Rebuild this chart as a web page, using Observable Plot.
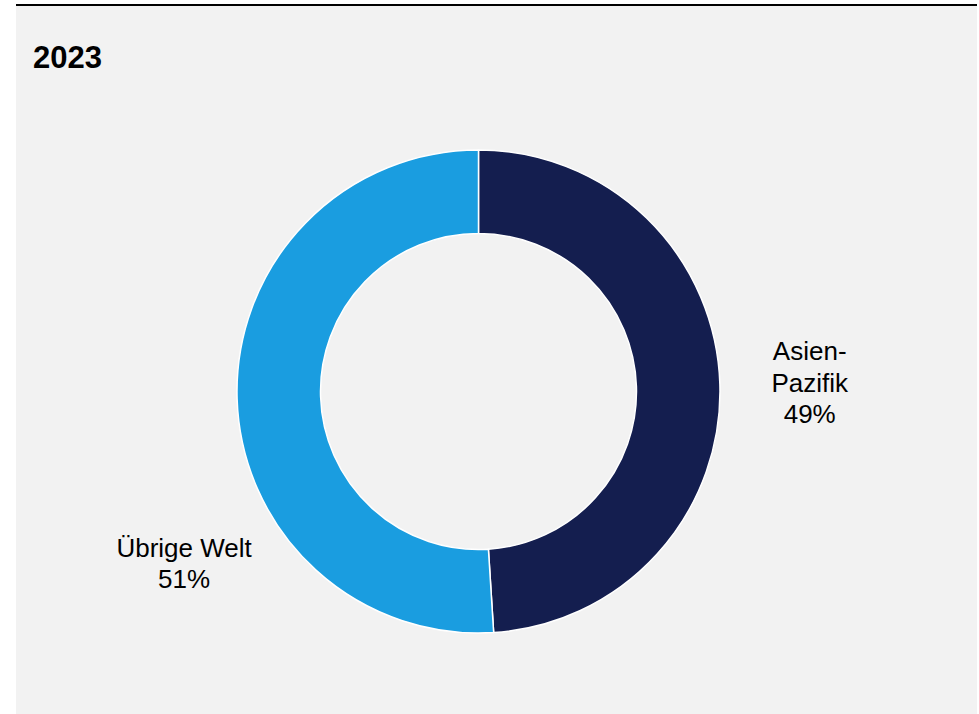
<!DOCTYPE html>
<html>
<head>
<meta charset="utf-8">
<script src="https://cdn.jsdelivr.net/npm/d3@7"></script>
<script src="https://cdn.jsdelivr.net/npm/@observablehq/plot@0.6"></script>
<style>
  html, body { margin: 0; padding: 0; background: #ffffff; }
  #panel {
    position: absolute; left: 16px; top: 4px; width: 961px; height: 708px;
    border-top: 2px solid #000; background: #f2f2f2; overflow: hidden;
  }
  #title {
    font-family: "Liberation Sans", Arial, sans-serif; font-weight: bold;
    font-size: 31px; line-height: 36px; height: 36px;
    padding: 34px 0 0 17px; color: #000;
  }
  #chart svg { display: block; background: transparent; }
</style>
</head>
<body>
<div id="panel">
  <div id="title">2023</div>
  <div id="chart"></div>
</div>
<script>
// ---- data ----
const regions = ["Asien-Pazifik", "Übrige Welt"];
const shares = [49, 51];
const labelTexts = ["Asien-\nPazifik\n49%", "Übrige Welt\n51%"];
const colors = ["#141e4f", "#1a9de0"];

// ---- layout (not data) ----
const innerRatio = 158 / 241.5;
const labelPlacement = { "Übrige Welt": { angleDeg: 240, radius: 1.41 } };
const defaultLabelRadius = 1.37;

const rows = regions.map((r, i) => ({ region: r, share: shares[i], label: labelTexts[i], color: colors[i] }));
const arcs = d3.pie().sort(null).value(d => d.share).startAngle(0).endAngle(2 * Math.PI)(rows);

const labels = arcs.map(a => {
  const p = labelPlacement[a.data.region];
  const ang = p ? p.angleDeg * Math.PI / 180 : (a.startAngle + a.endAngle) / 2;
  const rr = p ? p.radius : defaultLabelRadius;
  return { x: rr * Math.sin(ang), y: rr * Math.cos(ang), text: a.data.label };
});

const donut = (index, scales, values, dimensions, context) => {
  const x = scales.x, y = scales.y;
  const cx = x(0), cy = y(0);
  const R = x(1) - x(0);
  const arcGen = d3.arc().innerRadius(R * innerRatio).outerRadius(R);
  const g = d3.create("svg:g").attr("transform", `translate(${cx},${cy})`);
  g.selectAll("path").data(arcs).join("path")
    .attr("d", arcGen)
    .attr("fill", d => d.data.color)
    .attr("stroke", "#ffffff")
    .attr("stroke-width", 1.5)
    .attr("stroke-linejoin", "round");
  return g.node();
};

const W = 961, H = 638;
const cxPx = 462.5, cyPx = 315.5, Rpx = 241.5;

const chart = Plot.plot({
  width: W,
  height: H,
  marginLeft: cxPx - Rpx,
  marginRight: W - (cxPx + Rpx),
  marginTop: cyPx - Rpx,
  marginBottom: H - (cyPx + Rpx),
  x: { domain: [-1, 1], axis: null },
  y: { domain: [-1, 1], axis: null },
  style: { background: "transparent", fontFamily: "'Liberation Sans', Arial, sans-serif" },
  marks: [
    donut,
    Plot.text(labels, {
      x: "x", y: "y", text: "text",
      fontSize: 26, lineHeight: 1.21, fill: "#000",
      textAnchor: "middle", lineAnchor: "middle"
    })
  ]
});
document.getElementById("chart").appendChild(chart);
</script>
</body>
</html>
